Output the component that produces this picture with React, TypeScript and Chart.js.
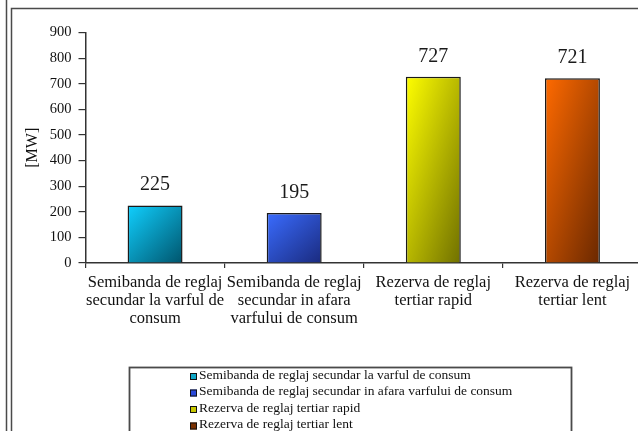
import React, { useEffect, useRef } from "react";
import { Chart, registerables } from "chart.js";

Chart.register(...registerables);

// ---- data ----
const categories: string[][] = [
  ["Semibanda de reglaj", "secundar la varful de", "consum"],
  ["Semibanda de reglaj", "secundar in afara", "varfului de consum"],
  ["Rezerva de reglaj", "tertiar rapid"],
  ["Rezerva de reglaj", "tertiar lent"],
];
const legendLabels: string[] = [
  "Semibanda de reglaj secundar la varful de consum",
  "Semibanda de reglaj secundar in afara varfului de consum",
  "Rezerva de reglaj tertiar rapid",
  "Rezerva de reglaj tertiar lent",
];
const values: number[] = [225, 195, 727, 721];
const yMin = 0;
const yMax = 900;
const yStep = 100;
const yAxisTitle = "[MW]";

// ---- styles ----
const lightColors = ["#10D0FF", "#3A6CFF", "#FFFF00", "#FF6A00"];
const darkColors = ["#00546C", "#1A2A7E", "#707000", "#6A2800"];
const legendColors = ["#10A8C8", "#2848D8", "#C8C800", "#7A3000"];
const FONT = "'Liberation Serif', 'Times New Roman', serif";
const BAR_PCT = 0.395;

function gradientFor(context: any) {
  const i = context.dataIndex ?? 0;
  const chart = context.chart;
  const xs = chart.scales?.x;
  const ys = chart.scales?.y;
  const c = chart.ctx;
  if (!xs || !ys || !c || !isFinite(xs.width) || xs.width <= 0) return lightColors[i];
  const cx = xs.getPixelForValue(i);
  const half = (xs.width / categories.length) * BAR_PCT / 2;
  const left = cx - half;
  const w = half * 2;
  const top = ys.getPixelForValue(values[i]);
  const h = ys.getPixelForValue(0) - top;
  if (!isFinite(top) || h <= 0) return lightColors[i];
  const s = 2 / (1 / (w * w) + 1 / (h * h));
  const g = c.createLinearGradient(left, top, left + s / w, top + s / h);
  g.addColorStop(0, lightColors[i]);
  g.addColorStop(1, darkColors[i]);
  return g;
}

const decorPlugin = {
  id: "decor",
  beforeDraw(chart: any) {
    const c = chart.ctx;
    c.save();
    c.fillStyle = "#ffffff";
    c.fillRect(0, 0, chart.width, chart.height);
    c.strokeStyle = "#4a4a4a";
    c.lineWidth = 1.5;
    c.beginPath();
    c.moveTo(6.5, 0);
    c.lineTo(6.5, chart.height);
    c.moveTo(11.5, chart.height);
    c.lineTo(11.5, 8.5);
    c.lineTo(chart.width, 8.5);
    c.stroke();
    c.restore();
  },
  afterDatasetsDraw(chart: any) {
    const c = chart.ctx;
    const meta = chart.getDatasetMeta(0);
    c.save();
    c.font = `20px ${FONT}`;
    c.fillStyle = "#1a1a1a";
    c.textAlign = "center";
    c.textBaseline = "middle";
    meta.data.forEach((bar: any, i: number) => {
      c.fillText(String(values[i]), bar.x, bar.y - 20.5);
    });
    c.restore();
  },
  afterDraw(chart: any) {
    const c = chart.ctx;
    c.save();
    c.strokeStyle = "#4a4a4a";
    c.lineWidth = 1.8;
    c.strokeRect(129.5, 367.5, 442, 80);
    const rows = [375, 391.5, 408, 424.5];
    c.font = `13.5px ${FONT}`;
    c.textAlign = "left";
    c.textBaseline = "middle";
    legendLabels.forEach((t, i) => {
      c.fillStyle = legendColors[i];
      c.fillRect(190, rows[i] - 2, 7, 7);
      c.strokeStyle = "#111";
      c.lineWidth = 1;
      c.strokeRect(190.5, rows[i] - 1.5, 6, 6);
      c.fillStyle = "#111";
      c.fillText(t, 199, rows[i]);
    });
    c.restore();
  },
};

export default function App() {
  const ref = useRef<HTMLCanvasElement>(null);
  useEffect(() => {
    if (!ref.current) return;
    const chart = new Chart(ref.current, {
      type: "bar",
      data: {
        labels: categories,
        datasets: [
          {
            data: values,
            backgroundColor: gradientFor,
            borderColor: "#1a1a1a",
            borderWidth: 1.5,
            barPercentage: BAR_PCT,
            categoryPercentage: 1,
          },
        ],
      },
      options: {
        animation: false,
        responsive: false,
        devicePixelRatio: 1,
        layout: { padding: { left: 0, top: 32.5, right: 18, bottom: 0 } },
        plugins: {
          legend: { display: false },
          tooltip: { enabled: false },
          title: { display: false },
        },
        scales: {
          x: {
            offset: true,
            grid: {
              offset: true,
              drawOnChartArea: false,
              drawTicks: true,
              tickLength: 5,
              color: "#333",
              lineWidth: 1.2,
            },
            border: { display: true, color: "#333", width: 1.5 },
            ticks: {
              autoSkip: false,
              maxRotation: 0,
              minRotation: 0,
              padding: 6,
              color: "#111",
              font: { family: FONT, size: 16.5, lineHeight: 18 / 16.5 },
            },
            afterFit: (scale: any) => {
              scale.height = 168;
            },
          },
          y: {
            min: yMin,
            max: yMax,
            ticks: {
              stepSize: yStep,
              padding: 7,
              color: "#111",
              font: { family: FONT, size: 14.5 },
            },
            grid: {
              drawOnChartArea: false,
              drawTicks: true,
              tickLength: 7,
              color: "#333",
              lineWidth: 1.2,
            },
            border: { display: true, color: "#333", width: 1.5 },
            title: {
              display: true,
              text: yAxisTitle,
              color: "#111",
              font: { family: FONT, size: 16, lineHeight: 1.2 },
              padding: { top: 23, bottom: 0 },
            },
            afterFit: (scale: any) => {
              scale.width = 85.5;
            },
          },
        },
      },
      plugins: [decorPlugin],
    });
    return () => chart.destroy();
  }, []);
  return (
    <div
      style={{
        position: "absolute",
        left: 0,
        top: 0,
        width: 638,
        height: 431,
        overflow: "hidden",
        background: "#fff",
      }}
    >
      <canvas
        ref={ref}
        width={660}
        height={431}
        style={{ position: "absolute", left: 0, top: 0, width: 660, height: 431 }}
      />
    </div>
  );
}
